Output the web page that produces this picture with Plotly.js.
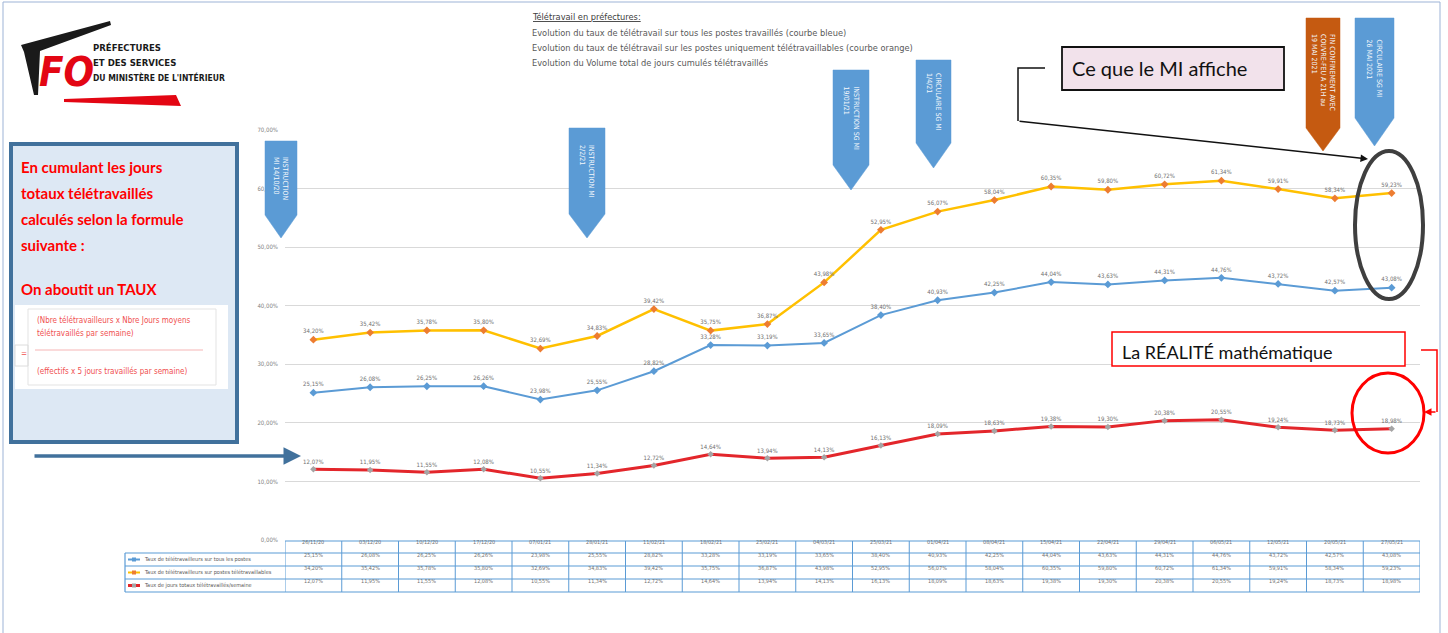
<!DOCTYPE html>
<html><head><meta charset="utf-8">
<script src="https://cdn.plot.ly/plotly-3.0.1.min.js"></script>
<style>html,body{margin:0;padding:0;background:#fff;}#chart{width:1448px;height:633px;}</style>
</head><body><div id="chart"></div>
<script>
const dates = ['26/11/20','03/12/20','10/12/20','17/12/20','07/01/21','28/01/21','11/02/21','18/02/21','25/02/21','04/03/21','25/03/21','01/04/21','08/04/21','15/04/21','22/04/21','29/04/21','06/05/21','12/05/21','20/05/21','27/05/21'];
const tauxTousPostes = [25.15,26.08,26.25,26.26,23.98,25.55,28.82,33.28,33.19,33.65,38.40,40.93,42.25,44.04,43.63,44.31,44.76,43.72,42.57,43.08];
const tauxPostesTeletravaillables = [34.20,35.42,35.78,35.80,32.69,34.83,39.42,35.75,36.87,43.98,52.95,56.07,58.04,60.35,59.80,60.72,61.34,59.91,58.34,59.23];
const tauxJoursTotaux = [12.07,11.95,11.55,12.08,10.55,11.34,12.72,14.64,13.94,14.13,16.13,18.09,18.63,19.38,19.30,20.38,20.55,19.24,18.73,18.98];
const seriesNames = ['Taux de télétravailleurs sur tous les postes','Taux de télétravailleurs sur postes télétravaillables','Taux de jours totaux télétravaillés/semaine'];
const titleLines = ['Télétravail en préfectures:','Evolution du taux de télétravail sur tous les postes travaillés (courbe bleue)','Evolution du taux de télétravail sur les postes uniquement télétravaillables (courbe orange)','Evolution du Volume total de jours cumulés télétravaillés'];
const callouts = [
  {text:'INSTRUCTION<br>MI 14/10/20'},
  {text:'INSTRUCTION MI<br>2/2/21'},
  {text:'INSTRUCTION SG MI<br>19/01/21'},
  {text:'CIRCULAIRE SG MI<br>1/4/21'},
  {text:'FIN CONFINEMENT AVEC<br>COUVRE-FEU A 21H au<br>19 MAI 2021'},
  {text:'CIRCULAIRE SG MI<br>26 MAI 2021'}
];

// pixel -> paper helpers
const L=285,R=1420,T=130,B=540;
const fx = x => (x-L)/(R-L);
const fy = y => (B-y)/(B-T);
const fmt = v => v.toFixed(2).replace('.',',')+'%';
const NARROW = 'DejaVu Sans Condensed, Liberation Sans Narrow, Arial Narrow, Liberation Sans, sans-serif';

const blue='#5b9bd5', gold='#ffc000', orange='#ed7d31', red='#e3262b';

const traces = [
  {x:dates,y:tauxTousPostes,name:seriesNames[0],mode:'lines+markers+text',
   line:{color:blue,width:2},marker:{symbol:'diamond',size:6,color:blue},
   texttemplate:'%{y:.2f}%',textposition:'top center',textfont:{size:6,color:'#6f6f6f',family:NARROW},cliponaxis:false},
  {x:dates,y:tauxPostesTeletravaillables,name:seriesNames[1],mode:'lines+markers+text',
   line:{color:gold,width:2.5},marker:{symbol:'diamond',size:6,color:orange},
   texttemplate:'%{y:.2f}%',textposition:'top center',textfont:{size:6,color:'#6f6f6f',family:NARROW},cliponaxis:false},
  {x:dates,y:tauxJoursTotaux,name:seriesNames[2],mode:'lines+markers+text',
   line:{color:red,width:3},marker:{symbol:'diamond',size:5,color:'#a5a5a5'},
   texttemplate:'%{y:.2f}%',textposition:'top center',textfont:{size:6,color:'#6f6f6f',family:NARROW},cliponaxis:false}
];

const shapes=[], annotations=[];
function rectPx(x0,y0,x1,y1,opts){shapes.push(Object.assign({type:'rect',xref:'paper',yref:'paper',x0:fx(x0),x1:fx(x1),y0:fy(y0),y1:fy(y1),layer:'above'},opts));}
function pathPx(pts,close,opts){
  let d=pts.map((p,i)=>(i?'L':'M')+fx(p[0])+','+fy(p[1])).join(' ')+(close?' Z':'');
  shapes.push(Object.assign({type:'path',xref:'paper',yref:'paper',path:d,layer:'above'},opts));
}
function textPx(x,y,text,opts){annotations.push(Object.assign({xref:'paper',yref:'paper',x:fx(x),y:fy(y),text:text,showarrow:false,xanchor:'left',yanchor:'middle'},opts));}

// outer frame
rectPx(3,2,1440,640,{line:{color:'#9db3d6',width:1},fillcolor:'rgba(0,0,0,0)'});

// table
const nCat=dates.length;
shapes.push({type:'line',xref:'x',yref:'paper',x0:-0.5,x1:nCat-0.5,y0:fy(541),y1:fy(541),line:{color:blue,width:1.2}});
[553,566,579,592].forEach(y=>pathPx([[125,y],[R,y]],false,{line:{color:blue,width:1.2}}));
pathPx([[125,553],[125,592]],false,{line:{color:blue,width:1.2}});
for(let i=0;i<=nCat;i++){
  shapes.push({type:'line',xref:'x',yref:'paper',x0:i-0.5,x1:i-0.5,y0:fy(541),y1:fy(592),line:{color:blue,width:1}});
}
const rowData=[tauxTousPostes,tauxPostesTeletravaillables,tauxJoursTotaux];
dates.forEach((d,i)=>{
  annotations.push({xref:'x',yref:'paper',x:d,y:fy(547),text:d,showarrow:false,font:{size:5.5,color:'#6f6f6f',family:NARROW}});
  rowData.forEach((arr,r)=>{
    annotations.push({xref:'x',yref:'paper',x:d,y:fy(559.5+13*r),text:fmt(arr[i]),showarrow:false,font:{size:5.5,color:'#6f6f6f',family:NARROW}});
  });
});
const legCols=[blue,orange,red];
seriesNames.forEach((n,r)=>{
  const y=559.5+13*r;
  pathPx([[128,y],[140,y]],false,{line:{color:r==1?gold:legCols[r],width:r==2?3:2}});
  rectPx(132,y-2,136,y+2,{fillcolor:r==2?'#a5a5a5':legCols[r],line:{width:0}});
  textPx(142,y,n,{font:{size:5.5,color:'#595959',family:NARROW}});
});

// title block
textPx(530,17,'<u>'+titleLines[0]+'</u>',{font:{size:9.2,color:'#404040',family:NARROW}});
for(let i=1;i<4;i++) textPx(530,17+15*i,titleLines[i],{font:{size:9.2,color:'#595959',family:NARROW}});

// callout arrows
const cgeo=[[265,297,141,215,238,blue],[569,605,128,214,238,blue],[833,869,70,165,190,blue],[916,951,60,143,168,blue],[1306,1340,18,128,151,'#c55a11'],[1355,1394,18,118,146,blue]];
cgeo.forEach((g,i)=>{
  const [xl,xr,yt,yb,tip,col]=g;
  pathPx([[xl,yt],[xr,yt],[xr,yb],[(xl+xr)/2,tip],[xl,yb]],true,{fillcolor:col,line:{color:col,width:0.5}});
  annotations.push({xref:'paper',yref:'paper',x:fx((xl+xr)/2),y:fy((yt+yb)/2),xanchor:'center',yanchor:'middle',text:callouts[i].text,showarrow:false,textangle:90,
    font:{size:7,color:'#f4f8fc',family:NARROW},align:'left'});
});

// logo
pathPx([[21,45],[110,21],[111,25],[40,51],[38,95],[34,95],[24,52]],true,{fillcolor:'#1a1a1a',line:{width:0}});
pathPx([[64,99],[176,95],[181,106],[64,102]],true,{fillcolor:'#e30613',line:{width:0}});
textPx(37,72,'<b><i>FO</i></b>',{font:{size:40,color:'#e30613',family:NARROW}});
textPx(91,47,'<b>PRÉFECTURES</b>',{font:{size:9.5,color:'#1a1a1a',family:NARROW}});
textPx(91,62,'<b>ET DES SERVICES</b>',{font:{size:9.5,color:'#1a1a1a',family:NARROW}});
textPx(91,77,'<b>DU MINISTÈRE DE L\'INTÉRIEUR</b>',{font:{size:8.5,color:'#1a1a1a',family:NARROW}});

// left explanation box
rectPx(11,144,237,442,{fillcolor:'#dde8f4',line:{color:'#41719c',width:4}});
const boxLines=['En cumulant les jours','totaux télétravaillés','calculés selon la formule','suivante :'];
boxLines.forEach((t,i)=>textPx(19,167+26*i,'<b>'+t+'</b>',{font:{size:15,color:'#ff0000',family:'Lato, sans-serif'}}));
textPx(19,289,'<b>On aboutit un TAUX</b>',{font:{size:15,color:'#ff0000',family:'Lato, sans-serif'}});
rectPx(15,305,228,389,{fillcolor:'#ffffff',line:{width:0}});
rectPx(28,309,216,385,{fillcolor:'rgba(0,0,0,0)',line:{color:'#e3e3e3',width:1}});
rectPx(15,345,28,366,{fillcolor:'rgba(0,0,0,0)',line:{color:'#dcdcdc',width:1}});
textPx(35,320,'(Nbre télétravailleurs x Nbre Jours moyens',{font:{size:8,color:'#f05050',family:NARROW}});
textPx(35,333,'télétravaillés par semaine)',{font:{size:8,color:'#f05050',family:NARROW}});
pathPx([[35,350],[203,350]],false,{line:{color:'#f6b5b5',width:1}});
textPx(19,353,'=',{font:{size:8,color:'#f05050',family:NARROW}});
textPx(35,371,'(effectifs x 5 jours travaillés par semaine)',{font:{size:8,color:'#f05050',family:NARROW}});

// blue arrow to red series
annotations.push({xref:'paper',yref:'paper',x:fx(301),y:fy(456),ax:-268,ay:0,text:'',showarrow:true,arrowhead:2,arrowsize:1,arrowwidth:3.5,arrowcolor:'#41719c'});

// "Ce que le MI affiche"
rectPx(1062,47,1284,90,{fillcolor:'#f2e2eb',line:{color:'#111',width:1.8}});
textPx(1070,68,'Ce que le MI affiche',{font:{size:20,color:'#111',family:'Lato, sans-serif'}});
pathPx([[1045,68],[1018,68],[1018,121]],false,{line:{color:'#111',width:1.5}});
annotations.push({xref:'paper',yref:'paper',x:fx(1368),y:fy(159),ax:-350,ay:-38,text:'',showarrow:true,arrowhead:2,arrowsize:1,arrowwidth:1.5,arrowcolor:'#111'});
shapes.push({type:'circle',xref:'paper',yref:'paper',x0:fx(1355),x1:fx(1423),y0:fy(151),y1:fy(299),line:{color:'#3f3f3f',width:4},layer:'above'});

// "La RÉALITÉ mathématique"
rectPx(1112,332,1405,366,{fillcolor:'#ffffff',line:{color:'#ff0000',width:1.5}});
textPx(1120,352,'La RÉALITÉ mathématique',{font:{size:18,color:'#111',family:'Lato, sans-serif'}});
pathPx([[1421,350],[1437,350],[1437,412]],false,{line:{color:'#ff0000',width:1.5}});
annotations.push({xref:'paper',yref:'paper',x:fx(1424),y:fy(412),ax:13,ay:0,text:'',showarrow:true,arrowhead:2,arrowsize:1,arrowwidth:1.5,arrowcolor:'#ff0000'});
shapes.push({type:'circle',xref:'paper',yref:'paper',x0:fx(1352),x1:fx(1424),y0:fy(373),y1:fy(453),line:{color:'#ff0000',width:3},layer:'above'});

const layout={
  width:1448,height:633,margin:{l:L,r:1448-R,t:T,b:633-B},
  paper_bgcolor:'#ffffff',plot_bgcolor:'#ffffff',showlegend:false,separators:', ',
  font:{family:NARROW},
  xaxis:{type:'category',range:[-0.5,nCat-0.5],showticklabels:false,showgrid:false,zeroline:false,showline:false,ticks:''},
  yaxis:{range:[0,70],dtick:10,tickformat:'.2f',ticksuffix:'%',tickfont:{size:6,color:'#7f7f7f',family:NARROW},
         gridcolor:'#d9d9d9',gridwidth:1.2,zeroline:false,showline:false,ticks:'',ticklabelstandoff:6},
  shapes:shapes,annotations:annotations
};
Plotly.newPlot('chart',traces,layout,{displayModeBar:false,staticPlot:true});
</script></body></html>
